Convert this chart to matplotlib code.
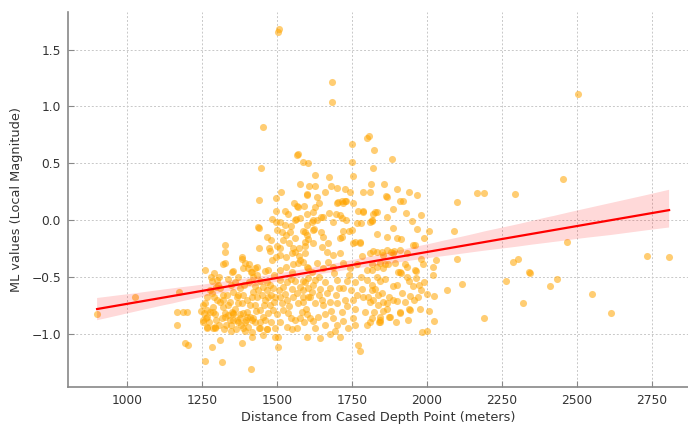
import matplotlib
matplotlib.use("Agg")
import matplotlib.pyplot as plt
import seaborn as sns
import numpy as np

# Distance from cased depth point (m) and ML values
dist_sparse = [900, 1025, 1167, 1187, 1200, 1173, 1167, 1193, 1203, 1260, 1317, 1413, 1283, 1310, 1383, 1503,
               1503, 1507, 1683, 1683, 1453, 1447, 1570, 1565, 1587, 1603, 1627, 1577, 1607, 1627, 1600, 1513,
               1497, 1440, 1673, 1727, 1743, 1750, 1750, 1753, 1800, 1807, 1823, 1820, 1813, 1810, 1787,
               1883, 1857, 1900, 1940, 1967, 1863, 1867, 2503, 2453, 2167, 2190, 2293, 2100]
ml_sparse = [-0.83, -0.68, -0.81, -0.81, -0.81, -0.63, -0.92, -1.08, -1.10, -1.24, -1.25, -1.31, -1.12, -1.06, -1.08, -1.12,
             1.65, 1.68, 1.21, 1.04, 0.82, 0.46, 0.58, 0.57, 0.51, 0.50, 0.40, 0.32, 0.30, 0.30, 0.23, 0.25,
             0.19, 0.18, 0.38, 0.27, 0.25, 0.67, 0.51, 0.39, 0.72, 0.74, 0.62, 0.46, 0.32, 0.25, 0.25,
             0.54, 0.32, 0.27, 0.25, 0.22, 0.21, 0.20, 1.11, 0.36, 0.24, 0.24, 0.23, 0.16]

dist_right = [1910, 1920, 1833, 1820, 1887, 1930, 1980, 1950, 1867, 1810, 1887, 1967, 2007, 2090, 1833, 1867,
              1900, 1913, 1990, 1953, 1820, 1850, 1880, 1890, 2467, 2100, 2030, 1980, 2287, 2303, 2733, 2807,
              1843, 1860, 1870, 1927, 1817, 1903, 1913, 1963, 2340, 2343, 2020, 1833, 1860, 1933, 1963, 2433,
              2263, 1940, 1953, 1973, 2410, 1900, 1887, 2117, 2067, 1827, 1917, 1980, 2000, 2023, 1943, 2550,
              1873, 1900, 1820, 1853, 1970, 2320, 1867, 1940, 1910, 1823, 1853, 2613, 2190, 2023, 1843, 1873,
              1840, 1810, 1983, 2000,
              1815, 1835, 1850, 1868, 1885, 1895, 1925, 1935, 1955, 1975, 1990, 2005]
ml_right = [0.17, 0.17, 0.07, 0.05, 0.10, 0.06, 0.04, -0.01, 0.03, -0.02, -0.07, -0.08, -0.10, -0.10, -0.12, -0.15,
            -0.16, -0.17, -0.16, -0.22, -0.27, -0.28, -0.28, -0.27, -0.19, -0.34, -0.35, -0.34, -0.37, -0.34, -0.32, -0.33,
            -0.38, -0.39, -0.39, -0.39, -0.44, -0.46, -0.47, -0.45, -0.46, -0.47, -0.48, -0.50, -0.52, -0.50, -0.51, -0.52,
            -0.54, -0.54, -0.58, -0.57, -0.58, -0.57, -0.58, -0.56, -0.62, -0.61, -0.64, -0.62, -0.65, -0.67, -0.67, -0.65,
            -0.68, -0.71, -0.70, -0.72, -0.68, -0.73, -0.73, -0.78, -0.82, -0.81, -0.80, -0.82, -0.86, -0.89, -0.85, -0.85,
            -0.90, -0.90, -0.99, -0.98,
            -0.62, -0.75, -0.64, -0.78, -0.70, -0.90, -0.72, -0.88, -0.70, -0.78, -0.55, -0.80]

dist_upper = [1567, 1570, 1497, 1527, 1563, 1483, 1510, 1497, 1527, 1437, 1500, 1517, 1530, 1543, 1467, 1327,
              1500, 1440, 1473, 1510, 1553, 1573, 1593, 1600,
              1703, 1717, 1727, 1753, 1627, 1620, 1770, 1787, 1673, 1697, 1647, 1717, 1730, 1780, 1817, 1620,
              1617, 1600, 1623, 1587, 1647, 1653, 1720, 1740, 1717, 1710, 1777, 1753, 1670, 1603, 1593,
              1440, 1477, 1560, 1577, 1593, 1620, 1633, 1653, 1600, 1633, 1687, 1700, 1710, 1720, 1730,
              1750, 1777, 1767, 1787, 1817, 1827,
              1480, 1520, 1540, 1560, 1545, 1535, 1555, 1590, 1600, 1640, 1660, 1680, 1700]
ml_upper = [0.12, 0.11, 0.08, 0.08, 0.01, 0.01, -0.02, -0.02, -0.04, -0.06, -0.09, -0.11, -0.13, -0.11, -0.15, -0.22,
            -0.23, -0.25, -0.25, -0.25, -0.25, -0.25, -0.23, -0.13,
            0.16, 0.17, 0.17, 0.15, 0.11, 0.07, 0.08, 0.08, 0.06, 0.05, 0.03, 0.02, 0.00, -0.03, -0.01, 0.00,
            -0.02, -0.04, -0.08, -0.10, -0.11, -0.15, -0.10, -0.10, -0.15, -0.16, -0.19, -0.20, -0.20, -0.17, -0.19,
            -0.07, -0.27, 0.00, 0.02, -0.11, -0.09, 0.00, 0.03, 0.22, 0.20, -0.02, 0.15, 0.04, 0.15, 0.17,
            -0.09, -0.20, -0.03, 0.07, 0.00, 0.07,
            -0.18, -0.18, -0.20, -0.16, -0.05, 0.05, 0.15, 0.12, 0.05, 0.15, 0.25, 0.30, 0.28]

dist_core = [1327, 1260, 1320, 1327, 1350, 1383, 1407, 1387, 1413, 1427, 1433, 1420, 1470, 1483, 1497, 1510,
             1530, 1550, 1560, 1573, 1593, 1510, 1530, 1553, 1570, 1587, 1603, 1283, 1300, 1303, 1260, 1267,
             1277, 1287, 1253, 1267, 1287, 1293, 1320, 1333, 1343, 1317, 1327, 1353, 1367, 1370, 1353, 1353,
             1370, 1387, 1400, 1410, 1420, 1433, 1400, 1410, 1417, 1427, 1387, 1393, 1417, 1443, 1453, 1467,
             1477, 1487, 1450, 1460, 1470, 1477, 1493, 1443, 1453, 1470, 1487, 1500, 1443, 1467, 1493, 1503,
             1510, 1520, 1533, 1550, 1560, 1577, 1593, 1603, 1510, 1533, 1553, 1570, 1587, 1603, 1520, 1537,
             1560, 1577, 1600, 1533, 1550, 1567,
             1353, 1383, 1393, 1403, 1417, 1433, 1290, 1305, 1280]
ml_core = [-0.28, -0.44, -0.39, -0.38, -0.46, -0.33, -0.39, -0.42, -0.46, -0.42, -0.48, -0.50, -0.44, -0.35, -0.33, -0.31,
           -0.33, -0.29, -0.28, -0.32, -0.29, -0.44, -0.41, -0.39, -0.38, -0.37, -0.42, -0.54, -0.53, -0.57, -0.73, -0.79,
           -0.81, -0.77, -0.88, -0.95, -0.95, -0.94, -0.70, -0.66, -0.72, -0.86, -0.82, -0.63, -0.68, -0.73, -0.82, -0.88,
           -0.90, -0.66, -0.70, -0.75, -0.63, -0.68, -0.81, -0.85, -0.88, -0.90, -0.95, -0.98, -1.03, -0.54, -0.59, -0.55,
           -0.57, -0.60, -0.66, -0.70, -0.68, -0.75, -0.68, -0.79, -0.85, -0.82, -0.79, -0.83, -0.95, -0.96, -0.95, -1.03,
           -0.53, -0.59, -0.55, -0.61, -0.54, -0.59, -0.55, -0.60, -0.68, -0.70, -0.68, -0.73, -0.72, -0.68, -0.79, -0.82,
           -0.88, -0.86, -0.83, -0.94, -0.96, -0.95,
           -0.45, -0.34, -0.38, -0.42, -0.46, -0.41, -0.47, -0.50, -0.50]

dist_mid = [1577, 1600, 1617, 1633, 1653, 1670, 1620, 1650, 1667, 1687, 1710, 1760, 1783, 1810, 1833, 1853,
            1867, 1887, 1910, 1933, 1960, 1687, 1720, 1743, 1767, 1800, 1817, 1833, 1853, 1893, 1910, 1933,
            1960, 1987, 2020, 1587, 1603, 1620, 1643, 1660, 1677, 1700, 1720, 1733, 1760, 1783, 1800, 1817,
            1843, 1587, 1610, 1627, 1650, 1653, 1677, 1700, 1717, 1733, 1753, 1767, 1787, 1803, 1810, 1837,
            1583, 1610, 1620, 1637, 1660, 1687, 1700, 1720, 1753, 1793, 1817, 1843, 1877, 1910, 1943, 1600,
            1643, 1693, 1800, 1843, 1770, 1777]
ml_mid = [-0.35, -0.41, -0.46, -0.38, -0.42, -0.37, -0.20, -0.24, -0.28, -0.31, -0.29, -0.19, -0.32, -0.29, -0.28, -0.31,
          -0.26, -0.29, -0.26, -0.29, -0.22, -0.41, -0.38, -0.42, -0.39, -0.44, -0.39, -0.41, -0.42, -0.38, -0.46, -0.41,
          -0.44, -0.39, -0.41, -0.54, -0.51, -0.57, -0.61, -0.55, -0.60, -0.53, -0.60, -0.54, -0.55, -0.61, -0.53, -0.57,
          -0.54, -0.68, -0.68, -0.73, -0.70, -0.75, -0.72, -0.73, -0.81, -0.76, -0.70, -0.66, -0.68, -0.68, -0.72, -0.66,
          -0.81, -0.86, -0.89, -0.85, -0.83, -0.86, -0.92, -0.89, -0.86, -0.81, -0.86, -0.88, -0.85, -0.81, -0.79, -1.03,
          -1.04, -0.98, -0.92, -0.90, -1.10, -1.15]

dist_left = [1253, 1257, 1267, 1283, 1290, 1300, 1287, 1293, 1310, 1320, 1320, 1327, 1337, 1350, 1353, 1343,
             1253, 1267, 1293, 1370, 1383, 1387, 1400, 1367, 1380, 1417, 1427, 1420, 1443, 1403, 1440, 1417,
             1453, 1467, 1493,
             1262, 1272, 1298, 1308, 1322, 1338, 1348, 1362, 1378, 1392]
ml_left = [-0.75, -0.82, -0.85, -0.64, -0.68, -0.70, -0.81, -0.83, -0.60, -0.66, -0.77, -0.85, -0.75, -0.81, -0.83, -0.88,
           -0.90, -0.94, -0.95, -0.66, -0.73, -0.82, -0.85, -0.88, -0.92, -0.68, -0.75, -0.86, -0.90, -0.94, -0.95, -0.99,
           -1.01, -0.96, -1.03,
           -0.86, -0.90, -0.88, -0.92, -0.96, -0.84, -0.92, -0.96, -0.86, -0.90]

dist_dense = [1335, 1345, 1360, 1375, 1390, 1405, 1425, 1435, 1360, 1375, 1395, 1430, 1455, 1465, 1480, 1490,
              1505, 1515, 1525, 1540, 1545, 1565, 1585, 1595, 1615, 1625, 1640, 1665, 1680, 1695, 1705, 1725,
              1745, 1760, 1275, 1295, 1310, 1265, 1245, 1330, 1345, 1460, 1480, 1510, 1545, 1590, 1625, 1660,
              1675, 1710, 1735, 1760, 1550, 1490, 1460, 1640, 1690, 1740, 1780, 1370]
ml_dense = [-0.52, -0.57, -0.55, -0.60, -0.57, -0.55, -0.58, -0.62, -0.78, -0.83, -0.88, -0.80, -0.75, -0.62, -0.66, -0.72,
            -0.62, -0.73, -0.65, -0.76, -0.52, -0.64, -0.62, -0.78, -0.63, -0.53, -0.66, -0.64, -0.80, -0.66, -0.60, -0.70,
            -0.62, -0.78, -0.62, -0.59, -0.72, -0.68, -0.80, -0.92, -0.98, -0.88, -0.90, -0.90, -0.86, -0.90, -0.95, -0.92,
            -1.00, -1.03, -0.95, -0.92, -0.46, -0.48, -0.45, -0.50, -0.47, -0.48, -0.50, -0.50]

distance = np.array(dist_sparse + dist_right + dist_upper + dist_core + dist_mid + dist_left + dist_dense, dtype=float)
ml_values = np.array(ml_sparse + ml_right + ml_upper + ml_core + ml_mid + ml_left + ml_dense, dtype=float)

x_label = "Distance from Cased Depth Point (meters)"
y_label = "ML values (Local Magnitude)"
x_ticks = [1000, 1250, 1500, 1750, 2000, 2250, 2500, 2750]
y_ticks = [-1.0, -0.5, 0.0, 0.5, 1.0, 1.5]

plt.rcParams['font.family'] = ['DejaVu Sans']
fig = plt.figure(figsize=(6.88, 4.25), dpi=100)
ax = fig.add_axes([68/688, 38/425, 1 - 68/688, 375/425])

sns.regplot(x=distance, y=ml_values, ax=ax, seed=0,
            scatter_kws={'color': '#FFA500', 'alpha': 0.55, 's': 26, 'linewidths': 0},
            line_kws={'color': 'red', 'linewidth': 1.6})
for coll in ax.collections[1:]:
    coll.set_facecolor((1.0, 0.0, 0.0, 0.15))

ax.set_xlim(803, 2870)
ax.set_ylim(-1.47, 1.83)
ax.set_xticks(x_ticks)
ax.set_yticks(y_ticks)
ax.set_yticklabels([f"{v:.1f}".replace("-", "\u2212") for v in y_ticks])

ax.grid(True, linestyle=(0, (2, 2)), color='#c8c8c8', linewidth=0.7)
ax.set_axisbelow(True)
for side in ['top', 'right']:
    ax.spines[side].set_visible(False)
for side in ['left', 'bottom']:
    ax.spines[side].set_color('#888888')
    ax.spines[side].set_linewidth(1.2)
ax.tick_params(direction='in', length=4, width=0.8, color='#888888', labelcolor='#333333', labelsize=8.8, pad=5)
ax.set_xlabel(x_label, fontsize=9.3, color='#333333', labelpad=3)
ax.set_ylabel(y_label, fontsize=9.3, color='#333333', labelpad=6)

fig.savefig("out.png", dpi=100)
